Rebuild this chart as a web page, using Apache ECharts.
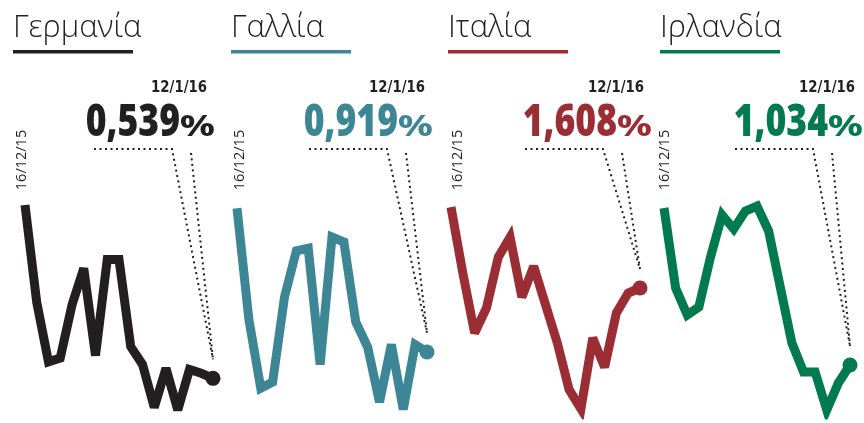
<!DOCTYPE html>
<html><head><meta charset="utf-8">
<script src="https://cdn.jsdelivr.net/npm/echarts@6/dist/echarts.min.js"></script>
<style>html,body{margin:0;padding:0;background:#fff}#c{width:864px;height:423px}</style>
</head><body><div id="c"></div>
<script>
// ---- data ----
const dates = ['16/12','17/12','18/12','21/12','22/12','23/12','24/12','28/12','29/12','30/12','31/12','4/1','5/1','6/1','7/1','8/1','12/1'];
const countries = ['Γερμανία', 'Γαλλία', 'Ιταλία', 'Ιρλανδία'];
const germany = [0.676,0.599,0.552,0.555,0.597,0.626,0.557,0.633,0.633,0.564,0.550,0.516,0.547,0.514,0.546,0.543,0.539];
const france  = [1.034,0.945,0.890,0.895,0.963,1.000,1.002,0.909,1.011,1.007,0.943,0.923,0.879,0.925,0.873,0.925,0.919];
const italy   = [1.705,1.626,1.554,1.584,1.645,1.669,1.597,1.634,1.588,1.542,1.486,1.463,1.548,1.513,1.578,1.602,1.608];
const ireland = [1.191,1.111,1.084,1.092,1.142,1.184,1.170,1.188,1.193,1.168,1.112,1.056,1.027,1.027,0.989,1.016,1.034];
const lastValueLabels = ['0,539', '0,919', '1,608', '1,034'];
const firstDateLabel = '16/12/15';
const lastDateLabel = '12/1/16';

// ---- layout / style ----
const seriesList = [germany, france, italy, ireland];
const colors = ['#231f20', '#3d8696', '#9b2d35', '#007a4e'];
const gridLeft = [25, 237, 451, 664];
const gridWidth = [188, 190, 189, 186];
const yMin = [0.51, 0.8686, 1.4556, 0.984];
const yMax = [0.68, 1.0406, 1.7136, 1.199];
const titleX = [13, 231, 448, 660];
const rotLabelX = [22, 240, 458, 665];
const valueRight = [215, 433, 652, 863];
const cornerX = [172, 387, 603, 813];
const dark = '#231f20';

const chart = echarts.init(document.getElementById('c'), null, {renderer: 'canvas'});
const grids = [], xAxes = [], yAxes = [], series = [];
seriesList.forEach((d, i) => {
  grids.push({left: gridLeft[i], width: gridWidth[i], top: 200, bottom: 8});
  xAxes.push({type: 'category', gridIndex: i, data: dates, boundaryGap: false, show: false});
  yAxes.push({type: 'value', gridIndex: i, min: yMin[i], max: yMax[i], show: false});
  const last = d.length - 1;
  series.push({
    type: 'line', xAxisIndex: i, yAxisIndex: i, data: d,
    symbol: 'circle', showAllSymbol: true,
    symbolSize: (v, p) => p.dataIndex === last ? 15 : 0,
    itemStyle: {color: colors[i]},
    lineStyle: {color: colors[i], width: 9, join: 'miter', miterLimit: 3, cap: 'butt'},
    silent: true, animation: false
  });
});
chart.setOption({animation: false, grid: grids, xAxis: xAxes, yAxis: yAxes, series: series});

const graphics = [];
const openSans = '"Open Sans", "Noto Sans", sans-serif';
seriesList.forEach((d, i) => {
  const last = d.length - 1;
  const p = chart.convertToPixel({seriesIndex: i}, [last, d[last]]);
  // title
  graphics.push({type: 'text', x: titleX[i], y: 28, silent: true,
    style: {text: countries[i], fill: dark, font: '300 31px ' + openSans, align: 'left', verticalAlign: 'middle'}});
  graphics.push({type: 'rect', silent: true, shape: {x: titleX[i], y: 50, width: 120, height: 3.5}, style: {fill: colors[i]}});
  // first date label (rotated)
  graphics.push({type: 'text', x: rotLabelX[i], y: 160, rotation: Math.PI / 2, silent: true,
    style: {text: firstDateLabel, fill: dark, font: '400 14.5px ' + openSans, align: 'center', verticalAlign: 'middle'}});
  // last date label
  graphics.push({type: 'text', x: valueRight[i] - 8, y: 88, scaleX: 0.83, silent: true,
    style: {text: lastDateLabel, fill: dark, font: 'bold 16px "DejaVu Sans", sans-serif', align: 'right', verticalAlign: 'middle'}});
  // big value: number and percent sign
  graphics.push({type: 'text', x: valueRight[i] - 35, y: 146, scaleX: 0.79, silent: true,
    style: {text: lastValueLabels[i], fill: colors[i], font: '800 45px ' + openSans, align: 'right', verticalAlign: 'bottom'}});
  graphics.push({type: 'text', x: valueRight[i], y: 142, scaleX: 1.35, silent: true,
    style: {text: '%', fill: colors[i], font: '700 29px ' + openSans, align: 'right', verticalAlign: 'bottom'}});
  // leader lines
  const endX = p[0], endY = p[1] - 19;
  const dash = {stroke: dark, lineWidth: 2, lineDash: [2, 3.5], fill: null};
  graphics.push({type: 'polyline', silent: true, shape: {points: [[cornerX[i] - 78, 149], [cornerX[i], 149], [endX, endY]]}, style: dash});
  graphics.push({type: 'polyline', silent: true, shape: {points: [[cornerX[i] + 19, 153], [endX, endY]]}, style: dash});
});
chart.setOption({graphic: graphics});
</script>
</body></html>
